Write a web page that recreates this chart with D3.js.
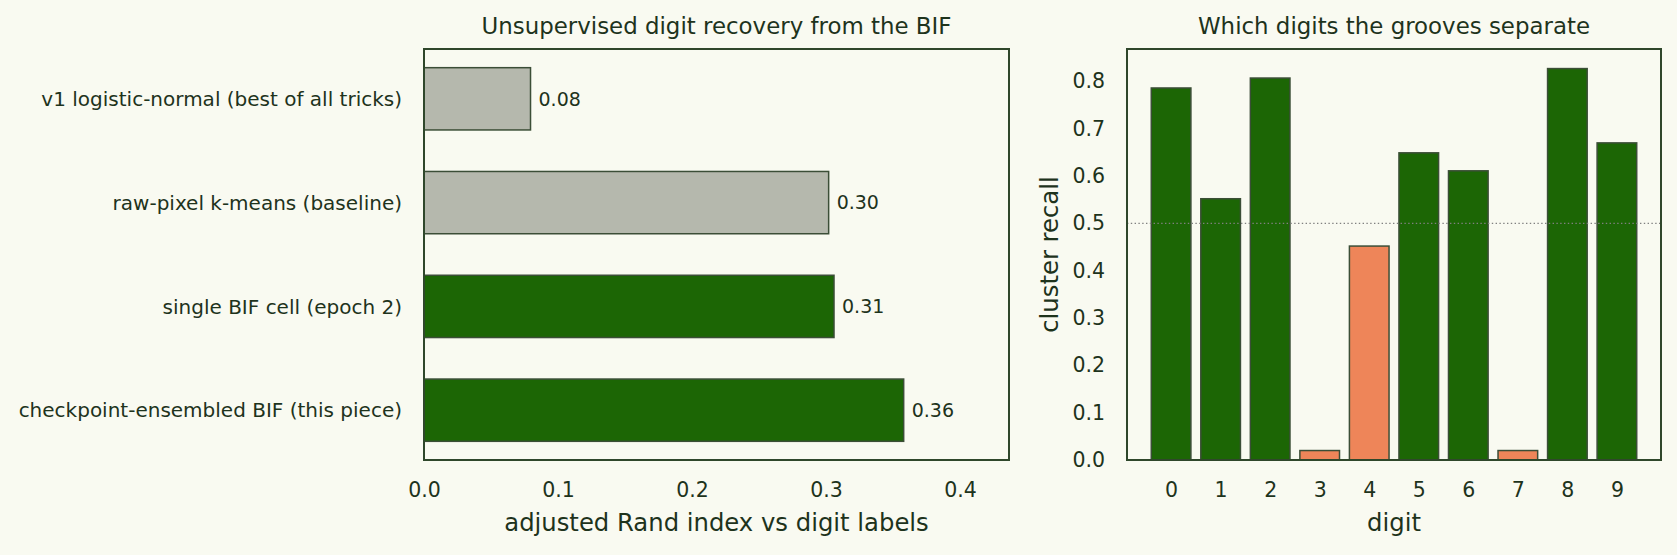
<!DOCTYPE html>
<html><head><meta charset="utf-8">
<script src="https://cdn.jsdelivr.net/npm/d3@7"></script>
<style>
body{margin:0;background:#f9faf1;}
svg{display:block;}
text{font-family:"DejaVu Sans",sans-serif;fill:#1e331c;}
</style>
</head><body><svg id="c" width="1677" height="555"></svg>
<script>
// ---- data ----
const methods = [
  "v1 logistic-normal (best of all tricks)",
  "raw-pixel k-means (baseline)",
  "single BIF cell (epoch 2)",
  "checkpoint-ensembled BIF (this piece)"
];
const ariValues = [0.0795, 0.302, 0.306, 0.358];
const methodIsBIF = [false, false, true, true];
const xTicksLeft = [0.0, 0.1, 0.2, 0.3, 0.4];

const digits = ["0","1","2","3","4","5","6","7","8","9"];
const recall = [0.786, 0.552, 0.807, 0.020, 0.452, 0.649, 0.611, 0.020, 0.827, 0.670];
const yTicksRight = [0.0, 0.1, 0.2, 0.3, 0.4, 0.5, 0.6, 0.7, 0.8];
const recallThreshold = 0.5;

// ---- style ----
const COL = {
  bg: "#f9faf1", frame: "#2f472b", edge: "#3b4e37",
  green: "#1c6605", grey: "#b5b8ad", orange: "#ee8559", ref: "#808080"
};
const svg = d3.select("#c");
svg.append("rect").attr("width",1677).attr("height",555).attr("fill",COL.bg);

// ---- left panel ----
const L = {x0:424, x1:1009, y0:49, y1:460};
const xL = d3.scaleLinear().domain([0, 0.4366]).range([L.x0, L.x1]);
const yL = d3.scaleLinear().domain([-0.48, 3.48]).range([L.y0, L.y1]);
const gL = svg.append("g");
const barH = 0.6;

gL.selectAll("rect.bar").data(ariValues).join("rect")
  .attr("class","bar")
  .attr("x", xL(0))
  .attr("y", (d,i)=> yL(i - barH/2))
  .attr("width", d => xL(d) - xL(0))
  .attr("height", yL(barH) - yL(0))
  .attr("fill", (d,i)=> methodIsBIF[i] ? COL.green : COL.grey)
  .attr("stroke", COL.edge).attr("stroke-width", 1.5);

const fmt2 = d3.format(".2f");
gL.selectAll("text.val").data(ariValues).join("text")
  .attr("class","val")
  .attr("x", d => xL(d) + 8)
  .attr("y", (d,i)=> yL(i))
  .attr("dy","0.36em")
  .style("font-size","19px")
  .text(d => fmt2(d));

gL.selectAll("text.ylab").data(methods).join("text")
  .attr("class","ylab")
  .attr("x", L.x0 - 22)
  .attr("y", (d,i)=> yL(i))
  .attr("dy","0.36em")
  .attr("text-anchor","end")
  .style("font-size","20px")
  .text(d=>d);

const axL = d3.axisBottom(xL).tickValues(xTicksLeft).tickFormat(d3.format(".1f")).tickSize(0).tickPadding(0);
const gAxL = gL.append("g").attr("transform",`translate(0,${L.y1})`).call(axL);
gAxL.select(".domain").remove();
gAxL.selectAll("text").attr("dy",null).attr("y",37).style("font-size","20.5px").attr("fill","#1e331c").style("font-family","DejaVu Sans");

gL.append("rect").attr("x",L.x0).attr("y",L.y0).attr("width",L.x1-L.x0).attr("height",L.y1-L.y0)
  .attr("fill","none").attr("stroke",COL.frame).attr("stroke-width",2);

gL.append("text").attr("x",(L.x0+L.x1)/2).attr("y",33.5).attr("text-anchor","middle")
  .style("font-size","22.9px").text("Unsupervised digit recovery from the BIF");
gL.append("text").attr("x",(L.x0+L.x1)/2).attr("y",531).attr("text-anchor","middle")
  .style("font-size","24.3px").text("adjusted Rand index vs digit labels");

// ---- right panel ----
const R = {x0:1127, x1:1661, y0:49, y1:460};
const maxRecall = d3.max(recall);
const xR = d3.scaleLinear().domain([-0.89, 9.89]).range([R.x0, R.x1]);
const yR = d3.scaleLinear().domain([0, maxRecall*1.05]).range([R.y1, R.y0]);
const gR = svg.append("g");
const barW = 0.8;

gR.selectAll("rect.bar").data(recall).join("rect")
  .attr("class","bar")
  .attr("x",(d,i)=> xR(i - barW/2))
  .attr("y", d => yR(d))
  .attr("width", xR(barW) - xR(0))
  .attr("height", d => yR(0) - yR(d))
  .attr("fill", d => d >= recallThreshold ? COL.green : COL.orange)
  .attr("stroke", COL.edge).attr("stroke-width",1.5);

gR.append("line")
  .attr("x1",R.x0).attr("x2",R.x1)
  .attr("y1",yR(recallThreshold)).attr("y2",yR(recallThreshold))
  .attr("stroke",COL.ref).attr("stroke-width",1.4).attr("stroke-dasharray","1.4,2.4");

const axRy = d3.axisLeft(yR).tickValues(yTicksRight).tickFormat(d3.format(".1f")).tickSize(0).tickPadding(22);
const gAxRy = gR.append("g").attr("transform",`translate(${R.x0},0)`).call(axRy);
gAxRy.select(".domain").remove();
gAxRy.selectAll("text").style("font-size","20.5px").attr("fill","#1e331c").style("font-family","DejaVu Sans");

const axRx = d3.axisBottom(xR).tickValues(d3.range(digits.length)).tickFormat(i=>digits[i]).tickSize(0).tickPadding(0);
const gAxRx = gR.append("g").attr("transform",`translate(0,${R.y1})`).call(axRx);
gAxRx.select(".domain").remove();
gAxRx.selectAll("text").attr("dy",null).attr("y",37).style("font-size","20.5px").attr("fill","#1e331c").style("font-family","DejaVu Sans");

gR.append("rect").attr("x",R.x0).attr("y",R.y0).attr("width",R.x1-R.x0).attr("height",R.y1-R.y0)
  .attr("fill","none").attr("stroke",COL.frame).attr("stroke-width",2);

gR.append("text").attr("x",(R.x0+R.x1)/2).attr("y",33.5).attr("text-anchor","middle")
  .style("font-size","22.9px").text("Which digits the grooves separate");
gR.append("text").attr("x",(R.x0+R.x1)/2).attr("y",531).attr("text-anchor","middle")
  .style("font-size","24.3px").text("digit");
gR.append("text").attr("transform",`translate(1058,${(R.y0+R.y1)/2}) rotate(-90)`).attr("text-anchor","middle")
  .style("font-size","24.3px").text("cluster recall");
</script>
</body></html>
